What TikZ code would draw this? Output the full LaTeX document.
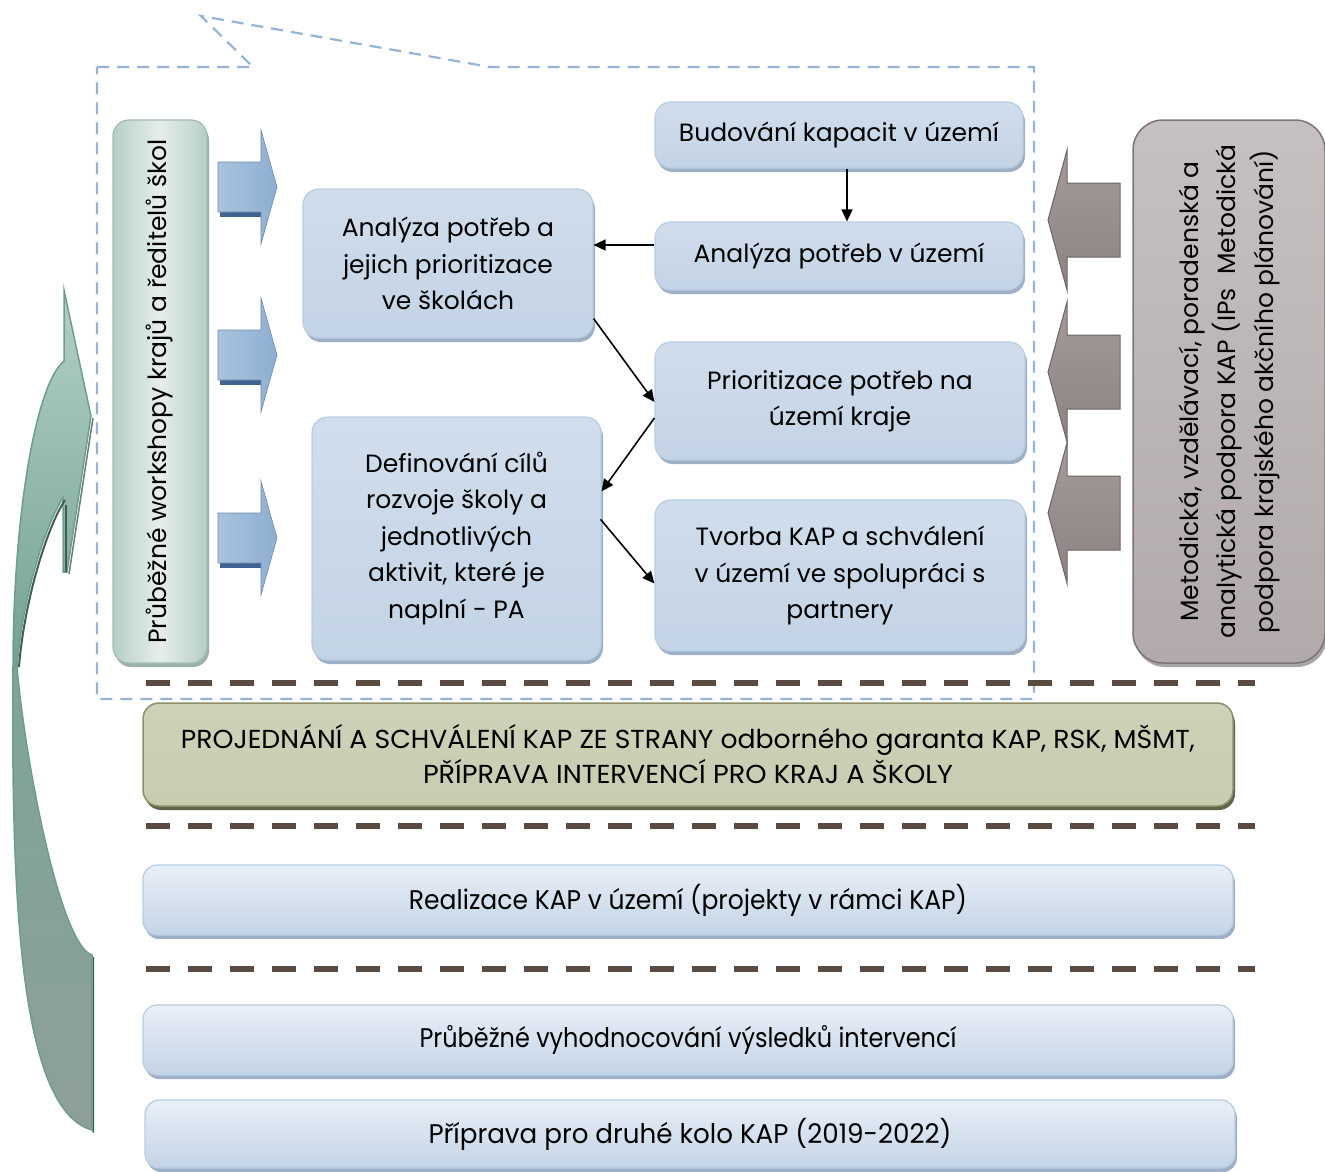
\documentclass[tikz,border=0pt]{standalone}
\usepackage{fontspec}
\setmainfont{Poppins}
\usepackage{graphicx}
\usetikzlibrary{arrows.meta,shadows,calc}
\definecolor{calloutblue}{HTML}{95B3D7}
\definecolor{brownline}{HTML}{5B4A42}
\definecolor{boxedge}{HTML}{B9CCE0}
\definecolor{bluetop}{HTML}{D0DDEC}
\definecolor{bluemid}{HTML}{E9EFF7}
\definecolor{bluebot}{HTML}{C3D4E6}
\definecolor{shadowblue}{HTML}{9DB0C6}
\definecolor{greenedge}{HTML}{A2BEB4}
\definecolor{greenside}{HTML}{B5CFC6}
\definecolor{greenmid}{HTML}{E6EEEB}
\definecolor{grayedge}{HTML}{7E7474}
\definecolor{graytop}{HTML}{C6C0C0}
\definecolor{graymid}{HTML}{958A8A}
\definecolor{graybot}{HTML}{B2AAAA}
\definecolor{olivetop}{HTML}{CDD2B8}
\definecolor{olivemid}{HTML}{A3A881}
\definecolor{olivebot}{HTML}{C8CDB1}
\definecolor{oliveedge}{HTML}{8C916C}
\definecolor{arrblue1}{HTML}{A9C3DE}
\definecolor{arrblue2}{HTML}{8DAED2}
\definecolor{arrbluedark}{HTML}{3E6390}
\definecolor{arrgray1}{HTML}{A39A9A}
\definecolor{arrgray2}{HTML}{8C8282}
\definecolor{arrgrayedge}{HTML}{6F6565}
\definecolor{tealtop}{HTML}{B3D0C6}
\definecolor{tealmid}{HTML}{74A292}
\definecolor{teallow1}{HTML}{7FA598}
\definecolor{teallow2}{HTML}{8D9F98}
\definecolor{tealedge}{HTML}{6E9C8F}
\definecolor{tealdark}{HTML}{3F5E55}
\newcommand\bandtext[2]{\resizebox{#1pt}{\height}{#2}}
\begin{document}
\begin{tikzpicture}[x=1pt,y=-1pt,
  txt/.style={font=\fontsize{25}{36.5}\selectfont, align=center, text=black},
  bluebox/.style={txt, draw=boxedge, line width=1.2pt, rounded corners=16pt,
    top color=bluetop, middle color=bluemid, bottom color=bluebot,
    drop shadow={shadow xshift=2pt, shadow yshift=-4pt, fill=shadowblue, opacity=1},
    inner sep=0pt},
  bandbox/.style={draw=boxedge, line width=1.2pt, rounded corners=14pt,
    top color=bluemid, bottom color=bluebot,
    drop shadow={shadow xshift=2pt, shadow yshift=-4pt, fill=shadowblue, opacity=1},
    inner sep=0pt, font=\fontsize{27}{30}\selectfont, text=black},
  callout/.style={draw=calloutblue, line width=2.2pt, dash pattern=on 12pt off 8pt},
  brdash/.style={draw=brownline, line width=6pt, dash pattern=on 24pt off 18pt},
  conn/.style={draw=black, line width=1.6pt, -{Triangle[length=12pt,width=11pt]}},
]
\useasboundingbox (0,0) rectangle (1325,1172);

% callout dashed outline
\draw[callout] (97,67) -- (253,67) -- (201,16) -- (490,67) -- (1034,67) -- (1034,699) -- (97,699) -- cycle;

% brown dashed separators
\draw[brdash] (146,683) -- (1255,683);
\draw[brdash] (146,826) -- (1255,826);
\draw[brdash] (146,969) -- (1255,969);

% curved teal arrow: lower part
\fill[tealdark] (94,1133) -- (94,957) -- (92,957) -- (92,1131) -- cycle;
\path[draw=tealedge, line width=1.5pt, top color=teallow1, bottom color=teallow2]
  (13,667) .. controls (11,900) and (20,1110) .. (92,1130)
  -- (92,955) .. controls (60,945) and (25,760) .. (17,667) -- cycle;
% curved teal arrow: upper part with head
\path[draw=tealedge, line width=1.5pt, top color=tealtop, bottom color=tealmid]
  (64,290) -- (91,416) -- (67,572) -- (63,572) -- (63,498)
  .. controls (45,525) and (22,600) .. (17,667) -- (13,667)
  .. controls (13,520) and (35,385) .. (64,361) -- cycle;
\draw[tealdark, line width=2pt] (65,500) .. controls (47,527) and (24,602) .. (19,667);
\draw[tealdark, line width=2pt] (66,505) -- (66,572);
\draw[tealdark!80, line width=1.5pt] (93,418) -- (69,574);

% left green box
\node[draw=greenedge, line width=1.2pt, rounded corners=16pt,
  left color=greenside, right color=greenside, middle color=greenmid,
  drop shadow={shadow xshift=2pt, shadow yshift=-4pt, fill=greenedge!80!gray, opacity=1},
  minimum width=94pt, minimum height=543pt, inner sep=0pt] (wk) at (160,391.5) {};
\node[txt, rotate=90] (wkt) at (wk.center) {Průběžné workshopy krajů a ředitelů škol};

% blue block arrows
\foreach \c/\nm in {187/ba1, 355/ba2, 538/ba3}{
  \fill[arrbluedark] (220,\c-23) -- (263,\c-23) -- (263,\c+30) -- (220,\c+30) -- cycle;
  \path[draw=arrblue2!80!black, line width=0.6pt, left color=arrblue1, right color=arrblue2]
    (218,\c-25) -- (261,\c-25) -- (261,\c-57) -- (277,\c) -- (261,\c+57)
    -- (261,\c+25) -- (218,\c+25) -- cycle;
}

% right gray box
\node[draw=grayedge, line width=1.5pt, rounded corners=30pt,
  top color=graytop, middle color=graymid, bottom color=graybot,
  drop shadow={shadow xshift=2pt, shadow yshift=-4pt, fill=gray!70, opacity=1},
  minimum width=192pt, minimum height=543pt, inner sep=0pt] (met) at (1229,391.5) {};
\node[txt, rotate=90, font=\fontsize{25}{37.5}\selectfont] (mett) at (met.center)
  {Metodická, vzdělávací, poradenská a\\analytická podpora KAP (IPs\ \ Metodická\\podpora krajského akčního plánování)};

% gray block arrows
\foreach \c in {220, 372, 513}{
  \path[draw=arrgrayedge, line width=1pt, top color=arrgray1, bottom color=arrgray2]
    (1120,\c-37) -- (1067,\c-37) -- (1067,\c-70) -- (1048,\c) -- (1067,\c+70)
    -- (1067,\c+37) -- (1120,\c+37) -- cycle;
}

% flow boxes
\node[bluebox, minimum width=368pt, minimum height=66pt] (bud) at (839,135) {Budování kapacit v území};
\node[bluebox, minimum width=368pt, minimum height=68pt] (apu) at (839,256) {Analýza potřeb v území};
\node[bluebox, minimum width=290pt, minimum height=149pt] (aps) at (448,263.5) {Analýza potřeb a\\jejich prioritizace\\ve školách};
\node[bluebox, minimum width=370pt, minimum height=118pt] (pri) at (840,401) {Prioritizace potřeb na\\území kraje};
\node[bluebox, minimum width=370pt, minimum height=151pt] (tvo) at (840,575.5) {Tvorba KAP a schválení\\v území ve spolupráci s\\partnery};
\node[bluebox, minimum width=289pt, minimum height=243pt] (def) at (456.5,538.5) {Definování cílů\\rozvoje školy a\\jednotlivých\\aktivit, které je\\naplní - PA};

% connectors
\draw[conn] ([xshift=8pt]bud.south) -- ([xshift=8pt]apu.north);
\draw[conn] ([yshift=11pt]apu.west) -- ([yshift=11pt]apu.west -| aps.east);
\draw[conn] ($(aps.south east)+(0,-20)$) -- ($(pri.west)+(0,1)$);
\draw[conn] ($(pri.west)+(0,17)$) -- ($(def.north east)+(0,75)$);
\draw[conn] ($(def.north east)+(-1,103)$) -- ($(tvo.west)+(0,8)$);

% bottom bands
\node[draw=oliveedge, line width=1.5pt, rounded corners=16pt,
  top color=olivetop, middle color=olivemid, bottom color=olivebot,
  drop shadow={shadow xshift=2pt, shadow yshift=-4pt, fill=oliveedge!70!black, opacity=1},
  minimum width=1090pt, minimum height=103pt, inner sep=0pt, align=center,
  font=\fontsize{26}{35}\selectfont] (proj) at (688,754.5)
  {\bandtext{1014}{PROJEDNÁNÍ A SCHVÁLENÍ KAP ZE STRANY odborného garanta KAP, RSK, MŠMT,}\\
   \bandtext{530}{PŘÍPRAVA INTERVENCÍ PRO KRAJ A ŠKOLY}};
\node[bandbox, minimum width=1090pt, minimum height=70pt] (real) at (688,900)
  {\bandtext{558}{Realizace KAP v území (projekty v rámci KAP)}};
\node[bandbox, minimum width=1090pt, minimum height=70pt] (prub) at (688,1040)
  {\bandtext{537}{Průběžné vyhodnocování výsledků intervencí}};
\node[bandbox, minimum width=1090pt, minimum height=68pt] (prip) at (690,1134)
  {\bandtext{523}{Příprava pro druhé kolo KAP (2019-2022)}};
\end{tikzpicture}
\end{document}
